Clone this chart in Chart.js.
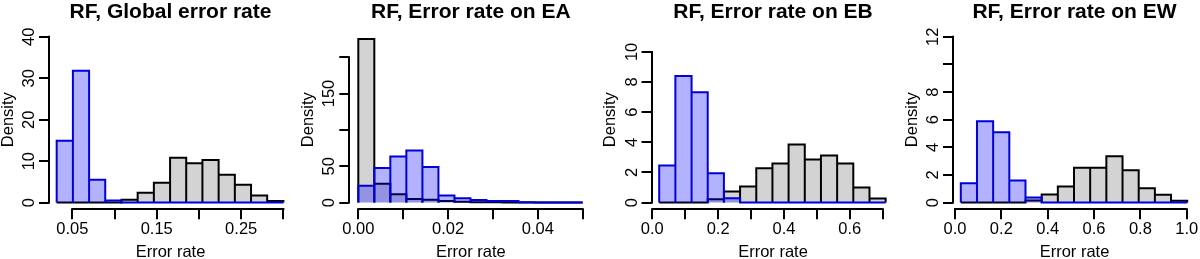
<!DOCTYPE html>
<html><head><meta charset="utf-8">
<script src="https://cdn.jsdelivr.net/npm/chart.js@4/dist/chart.umd.min.js"></script>
<style>
html,body{margin:0;padding:0;background:#fff;}
#wrap{display:flex;width:1200px;height:259px;overflow:hidden;}
canvas{display:block;}
</style></head><body>
<div id="wrap">
<canvas id="c0" width="300" height="259"></canvas>
<canvas id="c1" width="300" height="259"></canvas>
<canvas id="c2" width="300" height="259"></canvas>
<canvas id="c3" width="300" height="259"></canvas>
</div>
<script>
// ---------- titles ----------
const panelTitles = ["RF, Global error rate", "RF, Error rate on EA", "RF, Error rate on EB", "RF, Error rate on EW"];
const xAxisTitle = "Error rate";
const yAxisTitle = "Density";

// ---------- bin edges (error rate) ----------
const edgesGlobal = [0.0315, 0.0507, 0.0699, 0.0890, 0.1082, 0.1274, 0.1466, 0.1658, 0.1849, 0.2041, 0.2233, 0.2425, 0.2617, 0.2808, 0.3000];
const edgesEA = [0, 0.00357, 0.00714, 0.01071, 0.01429, 0.01786, 0.02143, 0.025, 0.02857, 0.03214, 0.03571, 0.03929, 0.04286, 0.04643, 0.05];
const edgesEB = [0.021, 0.0701, 0.1193, 0.1684, 0.2176, 0.2667, 0.3159, 0.3650, 0.4141, 0.4633, 0.5124, 0.5616, 0.6107, 0.6599, 0.709];
const edgesEW = [0.025, 0.0948, 0.1646, 0.2344, 0.3042, 0.374, 0.4438, 0.5136, 0.5834, 0.6532, 0.723, 0.7928, 0.8626, 0.9324, 1.0022];

// ---------- densities: blue series ----------
const blueGlobal = [14.9, 31.8, 5.5, 0.5, 0, 0, 0, 0, 0, 0, 0, 0, 0, 0];
const blueEA = [23, 47.4, 63.4, 71.7, 48.8, 9.7, 6, 3.6, 2.2, 2.0, 0.3, 0.2, 0.1, 0];
const blueEB = [2.46, 8.4, 7.33, 1.95, 0.29, 0, 0, 0, 0, 0, 0, 0, 0, 0];
const blueEW = [1.40, 5.88, 5.09, 1.59, 0.36, 0, 0, 0, 0, 0, 0, 0, 0, 0];

// ---------- densities: grey series ----------
const greyGlobal = [0, 0, 0, 0, 0.7, 2.4, 4.8, 10.8, 9.5, 10.3, 6.7, 4.3, 1.7, 0.35];
const greyEA = [225, 26, 11.6, 5, 4, 2, 1, 0.5, 0.3, 0.2, 0, 0, 0, 0];
const greyEB = [0, 0, 0, 0.22, 0.73, 1.06, 2.28, 2.59, 3.85, 2.86, 3.12, 2.59, 1.0, 0.27];
const greyEW = [0, 0, 0, 0, 0.15, 0.58, 1.16, 2.53, 2.53, 3.35, 2.34, 1.04, 0.56, 0.14];

// ---------- tick values & labels ----------
const xTicksGlobal = [0.05, 0.10, 0.15, 0.20, 0.25, 0.30];
const xLabelsGlobal = ["0.05", "", "0.15", "", "0.25", ""];
const xTicksEA = [0, 0.01, 0.02, 0.03, 0.04, 0.05];
const xLabelsEA = ["0.00", "", "0.02", "", "0.04", ""];
const xTicksEB = [0, 0.1, 0.2, 0.3, 0.4, 0.5, 0.6, 0.7];
const xLabelsEB = ["0.0", "", "0.2", "", "0.4", "", "0.6", ""];
const xTicksEW = [0, 0.2, 0.4, 0.6, 0.8, 1.0];
const xLabelsEW = ["0.0", "0.2", "0.4", "0.6", "0.8", "1.0"];

const yTicksGlobal = [0, 10, 20, 30, 40];
const yLabelsGlobal = ["0", "10", "20", "30", "40"];
const yTicksEA = [0, 50, 100, 150, 200];
const yLabelsEA = ["0", "50", "", "150", ""];
const yTicksEB = [0, 2, 4, 6, 8, 10];
const yLabelsEB = ["0", "2", "4", "6", "8", "10"];
const yTicksEW = [0, 2, 4, 6, 8, 10, 12];
const yLabelsEW = ["0", "2", "4", "6", "8", "", "12"];

// ---------- axis ranges ----------
const xRanges = [[0.02241, 0.31019], [-0.002006, 0.052151], [-0.00243, 0.7359], [-0.00863, 1.0401]];
const yLimits = [40, 228, 11, 12];

// ---------- layout (styling only) ----------
const plotLeft = [49, 49.3, 51.5, 53];
const plotWidth = 243;
const plotTop = 30.2, plotBottom = 209.2, H = 259, W = 300;
const FONT = "'Liberation Sans', Arial, Helvetica, sans-serif";
const TICK_SIZE = 16.5, LAB_SIZE = 16.5, TITLE_SIZE = 21;
const BLUE_LINE = "rgb(0,0,215)";
const BLUE_FILL = "rgba(0,0,255,0.3)";
const GREY_FILL = "#d3d3d3";

const panels = [
  {edges: edgesGlobal, blue: blueGlobal, grey: greyGlobal, xt: xTicksGlobal, xl: xLabelsGlobal, yt: yTicksGlobal, yl: yLabelsGlobal},
  {edges: edgesEA, blue: blueEA, grey: greyEA, xt: xTicksEA, xl: xLabelsEA, yt: yTicksEA, yl: yLabelsEA},
  {edges: edgesEB, blue: blueEB, grey: greyEB, xt: xTicksEB, xl: xLabelsEB, yt: yTicksEB, yl: yLabelsEB},
  {edges: edgesEW, blue: blueEW, grey: greyEW, xt: xTicksEW, xl: xLabelsEW, yt: yTicksEW, yl: yLabelsEW}
];

function trace(edges, heights) {
  const pts = [];
  heights.forEach((h, i) => {
    pts.push({x: edges[i], y: 0}, {x: edges[i], y: h}, {x: edges[i + 1], y: h}, {x: edges[i + 1], y: 0});
  });
  return pts;
}

const measureCtx = document.createElement('canvas').getContext('2d');
measureCtx.font = TICK_SIZE + "px " + FONT;
function widest(labels) {
  return Math.max(...labels.map(l => measureCtx.measureText(l).width));
}

const rAxes = {
  id: 'rAxes',
  afterDraw(chart) {
    const {ctx, chartArea, scales: {x, y}} = chart;
    const xt = x.ticks, yt = y.ticks;
    ctx.save();
    ctx.strokeStyle = '#000';
    ctx.lineWidth = 2;
    ctx.lineCap = 'square';
    ctx.beginPath();
    ctx.moveTo(x.getPixelForValue(xt[0].value), Math.round(chartArea.bottom));
    ctx.lineTo(x.getPixelForValue(xt[xt.length - 1].value), Math.round(chartArea.bottom));
    ctx.moveTo(Math.round(chartArea.left), y.getPixelForValue(yt[0].value));
    ctx.lineTo(Math.round(chartArea.left), y.getPixelForValue(yt[yt.length - 1].value));
    ctx.stroke();
    ctx.restore();
  }
};

panels.forEach((p, i) => {
  const left = plotLeft[i];
  const yMax = yLimits[i];
  const yPad = 9.5 - widest(p.yl) / 2;
  new Chart(document.getElementById('c' + i), {
    type: 'line',
    data: {
      datasets: [
        {data: trace(p.edges, p.blue), borderColor: BLUE_LINE, backgroundColor: BLUE_FILL, fill: 'origin',
         borderWidth: 2, pointRadius: 0, tension: 0, borderJoinStyle: 'miter'},
        {data: trace(p.edges, p.grey), borderColor: '#000', backgroundColor: GREY_FILL, fill: 'origin',
         borderWidth: 2, pointRadius: 0, tension: 0, borderJoinStyle: 'miter'}
      ]
    },
    options: {
      responsive: false,
      animation: false,
      devicePixelRatio: 1,
      events: [],
      layout: {padding: {left: 0, top: 0, bottom: 0, right: W - left - plotWidth}},
      plugins: {
        legend: {display: false},
        tooltip: {enabled: false},
        title: {
          display: true, text: panelTitles[i], fullSize: false, color: '#000',
          font: {family: FONT, size: TITLE_SIZE, weight: 'bold', lineHeight: 1.2},
          padding: {top: 0, bottom: plotTop - TITLE_SIZE * 1.2}
        }
      },
      scales: {
        x: {
          type: 'linear', min: xRanges[i][0], max: xRanges[i][1],
          afterFit: s => { s.height = H - plotBottom; },
          afterBuildTicks: s => { s.ticks = p.xt.map(v => ({value: v})); },
          border: {display: false},
          grid: {drawOnChartArea: false, drawTicks: true, tickLength: 10, color: '#000', lineWidth: 2},
          ticks: {autoSkip: false, maxRotation: 0, minRotation: 0, padding: 0.7, color: '#000',
                  font: {family: FONT, size: TICK_SIZE}, callback: (v, idx) => p.xl[idx]},
          title: {display: true, text: xAxisTitle, color: '#000', font: {family: FONT, size: LAB_SIZE, lineHeight: 1},
                  padding: {top: 0, bottom: -1.8}}
        },
        y: {
          type: 'linear', min: -0.04 * yMax, max: 1.04 * yMax,
          afterFit: s => { s.width = left; },
          afterBuildTicks: s => { s.ticks = p.yt.map(v => ({value: v})); },
          border: {display: false},
          grid: {drawOnChartArea: false, drawTicks: true, tickLength: 10, color: '#000', lineWidth: 2},
          ticks: {autoSkip: false, minRotation: 90, maxRotation: 90, crossAlign: 'center', padding: yPad, color: '#000',
                  font: {family: FONT, size: TICK_SIZE}, callback: (v, idx) => p.yl[idx]},
          title: {display: true, text: yAxisTitle, color: '#000', font: {family: FONT, size: LAB_SIZE, lineHeight: 1},
                  padding: {top: left - 49, bottom: 0}}
        }
      }
    },
    plugins: [rAxes]
  });
});
</script>
</body></html>
